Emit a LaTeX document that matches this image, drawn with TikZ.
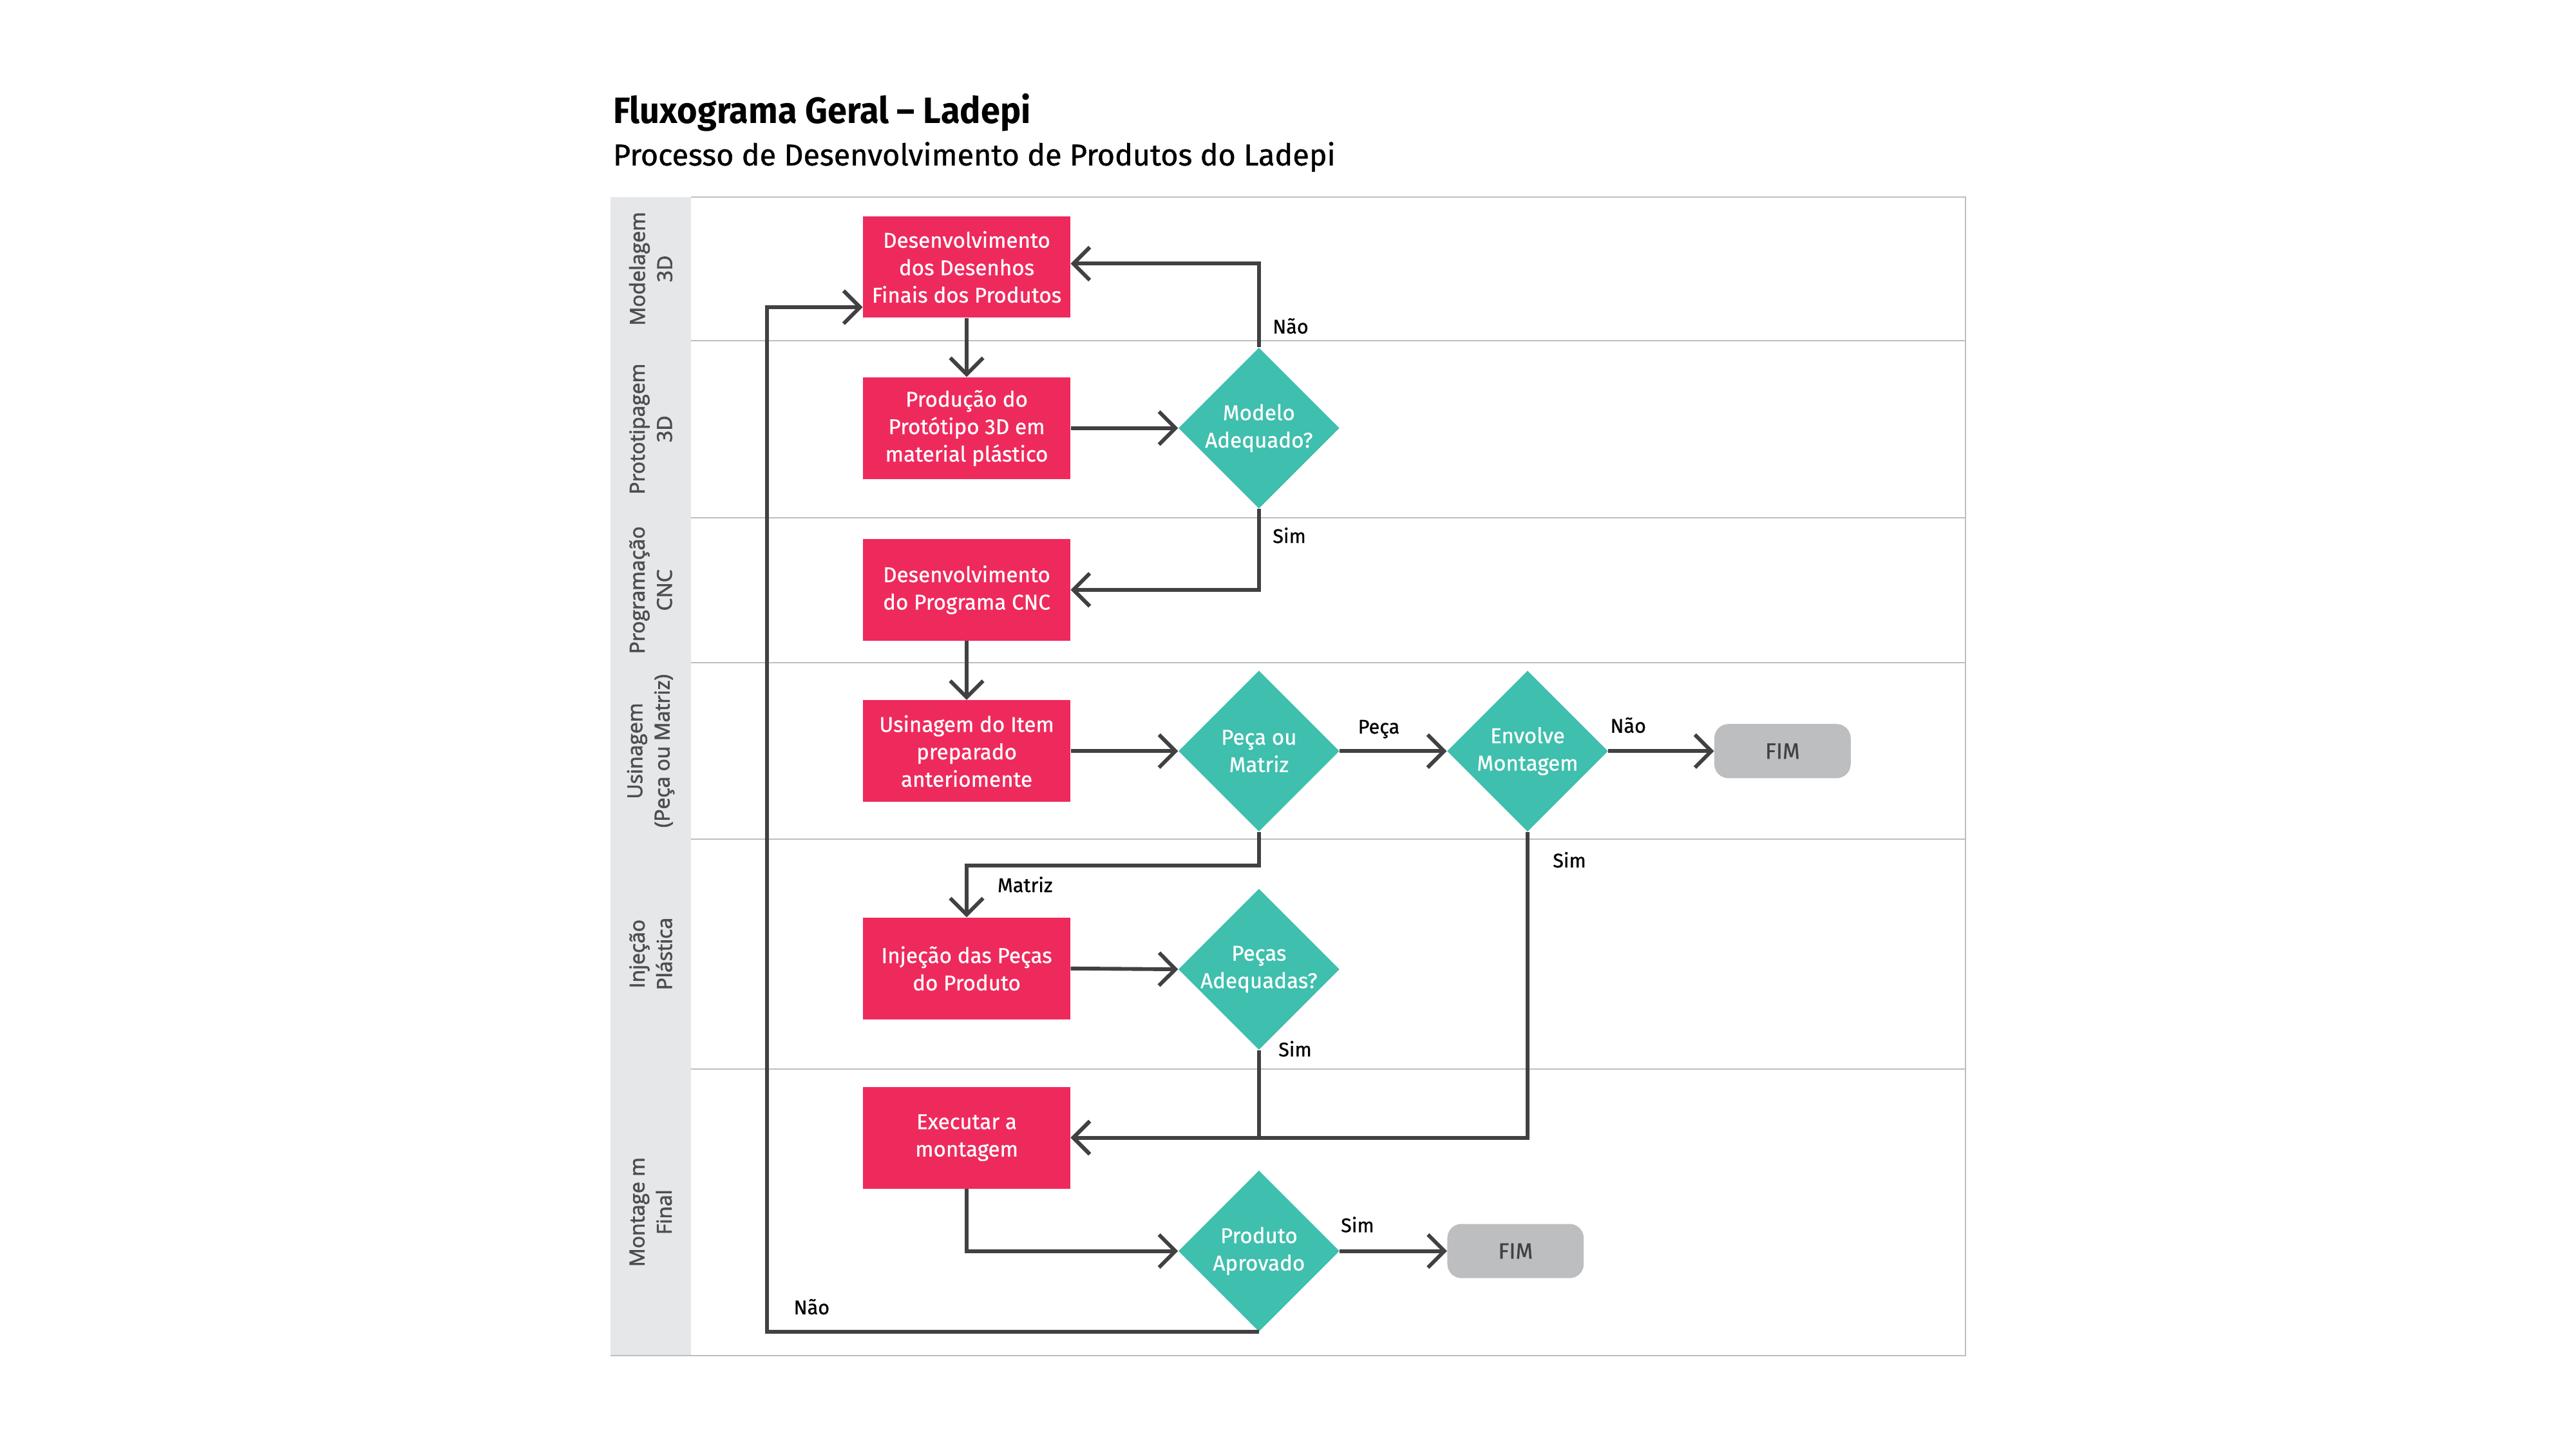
\documentclass[tikz,border=0pt]{standalone}
\usepackage{fontspec}
\setmainfont{Fira Sans}[FakeBold=0.6]
\newfontfamily\titlefont{Fira Sans}[FakeStretch=0.95]
\newfontfamily\boxfont{Fira Sans}[FakeBold=0.7]
\newfontfamily\lblfont{Fira Sans}[FakeBold=0.9]
\newfontfamily\lanefont{Open Sans}[FakeBold=2.2]
\usetikzlibrary{shapes.geometric,arrows.meta}
\definecolor{pinkc}{HTML}{EE2A5D}
\definecolor{tealc}{HTML}{3FBFAD}
\definecolor{darkc}{HTML}{414042}
\definecolor{framec}{HTML}{BCBEC0}
\definecolor{colc}{HTML}{E6E7E8}
\definecolor{lanetxt}{HTML}{4D4E50}
\definecolor{fimc}{HTML}{BCBEC0}
\begin{document}
\begin{tikzpicture}[x=1pt,y=-1pt,
 procbox/.style={rectangle, fill=pinkc, text=white, minimum width=126.2pt, minimum height=61.9pt, inner sep=0pt, align=center, font=\boxfont\fontsize{13}{16.7}\selectfont},
 decis/.style={diamond, fill=tealc, text=white, minimum width=98pt, minimum height=98pt, inner sep=-10pt, align=center, font=\boxfont\fontsize{13}{16.7}\selectfont},
 endbox/.style={rectangle, rounded corners=8.6pt, fill=fimc, text=darkc, minimum width=83pt, minimum height=33pt, inner sep=0pt, font=\boxfont\fontsize{13.5}{16}\selectfont},
 flow/.style={draw=darkc, line width=2.3pt, -{Straight Barb[length=10pt,width=20pt]}},
 lbl/.style={anchor=base west, inner sep=0pt, font=\lblfont\fontsize{12}{14}\selectfont, text=black},
 lanelbl/.style={rotate=90, align=center, text=lanetxt, font=\lanefont\fontsize{12.5}{16.6}\selectfont, inner sep=0pt},
 sep/.style={draw=framec, line width=0.8pt}
]
\useasboundingbox (0,0) rectangle (1568,882);
\fill[white] (0,0) rectangle (1568,882);

% titles
\node[anchor=base west, inner sep=0pt, font=\titlefont\bfseries\fontsize{22.3}{26}\selectfont] (title) at (373,75) {Fluxograma Geral – Ladepi};
\node[anchor=base west, inner sep=0pt, font=\lblfont\fontsize{18.3}{22}\selectfont] (subtitle) at (373,100.7) {Processo de Desenvolvimento de Produtos do Ladepi};

% frame and lanes
\fill[colc] (371.6,120) rectangle (420.6,825);
\draw[sep] (420.6,120) -- (1196.4,120) -- (1196.4,825) -- (371.6,825);
\foreach \yy in {207.2,315,403.5,510.7,650.6}
  \draw[sep] (420.6,\yy) -- (1196.4,\yy);

\node[lanelbl] (L1) at (396.1,163.6) {Modelagem\\3D};
\node[lanelbl] (L2) at (396.1,261.1) {Prototipagem\\3D};
\node[lanelbl] (L3) at (396.1,359.2) {Programação\\CNC};
\node[lanelbl] (L4) at (396.1,457.1) {Usinagem\\(Peça ou Matriz)};
\node[lanelbl] (L5) at (396.1,580.6) {Injeção\\Plástica};
\node[lanelbl] (L6) at (396.1,737.8) {Montage m\\Final};

% process boxes
\node[procbox] (b1) at (588.4,162.5) {Desenvolvimento\\dos Desenhos\\Finais dos Produtos};
\node[procbox] (b2) at (588.4,260.6) {Produção do\\Protótipo 3D em\\material plástico};
\node[procbox] (b3) at (588.4,359) {Desenvolvimento\\do Programa CNC};
\node[procbox] (b4) at (588.4,457.2) {Usinagem do Item\\preparado\\anteriomente};
\node[procbox] (b5) at (588.4,589.5) {Injeção das Peças\\do Produto};
\node[procbox] (b6) at (588.4,692.5) {Executar a\\montagem};

% decisions
\node[decis] (d1) at (766.3,260.6) {Modelo\\Adequado?};
\node[decis] (d2) at (766.3,457.2) {Peça ou\\Matriz};
\node[decis] (d3) at (929.8,457.2) {Envolve\\Montagem};
\node[decis] (d4) at (766.3,590) {Peças\\Adequadas?};
\node[decis] (d5) at (766.3,761.5) {Produto\\Aprovado};

% ends
\node[endbox] (f1) at (1085,457.2) {FIM};
\node[endbox] (f2) at (922.5,761.5) {FIM};

% helper coordinates
\coordinate (jm) at (588.4,527);
\coordinate (lp) at (467,187);

% connectors
\draw[flow] (b1.south) -- (b2.north);
\draw[flow] (b2.east) -- (d1.west);
\draw[flow] (d1.north) |- ([yshift=2pt]b1.east);
\draw[flow] (d1.south) |- (b3.east);
\draw[flow] (b3.south) -- (b4.north);
\draw[flow] (b4.east) -- (d2.west);
\draw[flow] (d2.east) -- (d3.west);
\draw[flow] (d3.east) -- (f1.west);
\draw[flow] (d2.south) |- (jm) -- (b5.north);
\draw[flow] (b5.east) -- (d4.west);
\draw[flow] (d4.south) |- (b6.east);
\draw[flow] (d3.south) |- (b6.east);
\draw[flow] (b6.south) |- (d5.west);
\draw[flow] (d5.east) -- (f2.west);
\draw[flow] (d5.south) -| (lp) -- (lp -| b1.west);

% labels
\node[lbl] (t1) at (774.5,203) {Não};
\node[lbl] (t2) at (774.5,330.5) {Sim};
\node[lbl] (t3) at (826.4,446.5) {Peça};
\node[lbl] (t4) at (980,446) {Não};
\node[lbl] (t5) at (945,528) {Sim};
\node[lbl] (t6) at (607,543) {Matriz};
\node[lbl] (t7) at (778,643) {Sim};
\node[lbl] (t8) at (816,750) {Sim};
\node[lbl] (t9) at (483,800) {Não};
\end{tikzpicture}
\end{document}
